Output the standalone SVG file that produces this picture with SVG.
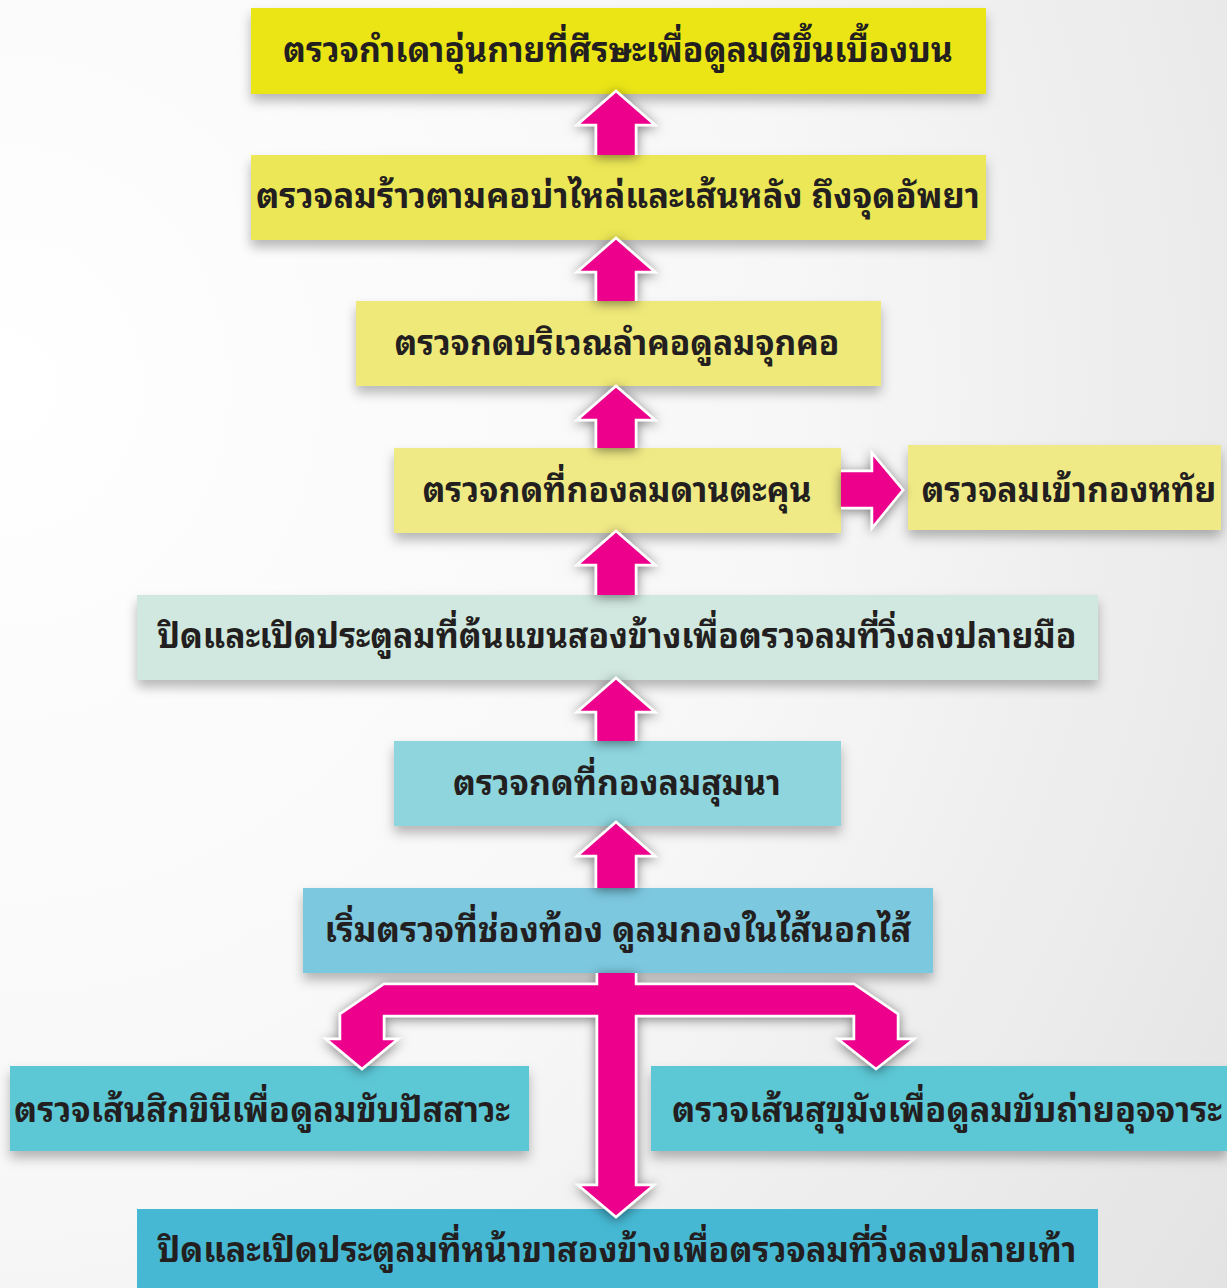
<svg xmlns="http://www.w3.org/2000/svg" width="1227" height="1288" viewBox="0 0 1227 1288">
<defs>
<radialGradient id="bg" cx="0" cy="0.3" r="1.3" gradientUnits="objectBoundingBox">
<stop offset="0" stop-color="#ffffff"/>
<stop offset="0.5" stop-color="#f7f7f7"/>
<stop offset="1" stop-color="#e0e0e0"/>
</radialGradient>
<filter id="bs" x="-10%" y="-30%" width="120%" height="170%">
<feDropShadow dx="0" dy="7" stdDeviation="6" flood-color="#000" flood-opacity="0.28"/>
</filter>
<filter id="as" x="-40%" y="-40%" width="180%" height="180%">
<feDropShadow dx="0" dy="2" stdDeviation="6" flood-color="#000" flood-opacity="0.5"/>
</filter>
</defs>
<style>
.t{font-family:"Noto Sans Thai Looped","Loma","Garuda","Tlwg Typo","Noto Sans Thai","Noto Sans","DejaVu Sans",sans-serif;font-weight:bold;font-size:34px;fill:#231f20;text-anchor:middle}
.arr{fill:#ec008c;stroke:#ffffff;stroke-width:2.5;stroke-linejoin:miter;filter:url(#as)}
</style>
<rect width="1227" height="1288" fill="url(#bg)"/>
<g id="n1"><rect x="251" y="8" width="735" height="86" fill="#ebe514" filter="url(#bs)"/><text class="t" x="618" y="62" textLength="670" lengthAdjust="spacingAndGlyphs">ตรวจกำเดาอุ่นกายที่ศีรษะเพื่อดูลมตีขึ้นเบื้องบน</text></g>
<g id="n2"><rect x="251" y="155" width="735" height="85" fill="#ece757" filter="url(#bs)"/><text class="t" x="618" y="208" textLength="724" lengthAdjust="spacingAndGlyphs">ตรวจลมร้าวตามคอบ่าไหล่และเส้นหลัง  ถึงจุดอัพยา</text></g>
<g id="n3"><rect x="356" y="301" width="525" height="85" fill="#efe979" filter="url(#bs)"/><text class="t" x="617" y="355" textLength="445" lengthAdjust="spacingAndGlyphs">ตรวจกดบริเวณลำคอดูลมจุกคอ</text></g>
<g id="n4"><rect x="394" y="448" width="447" height="85" fill="#f0ea86" filter="url(#bs)"/><text class="t" x="617" y="502" textLength="389" lengthAdjust="spacingAndGlyphs">ตรวจกดที่กองลมดานตะคุน</text></g>
<g id="n4b"><rect x="908" y="445" width="313" height="85" fill="#f0ea86" filter="url(#bs)"/><text class="t" x="1069" y="502" textLength="295" lengthAdjust="spacingAndGlyphs">ตรวจลมเข้ากองหทัย</text></g>
<g id="n5"><rect x="137" y="595" width="961" height="85" fill="#d0e8df" filter="url(#bs)"/><text class="t" x="617" y="648" textLength="919" lengthAdjust="spacingAndGlyphs">ปิดและเปิดประตูลมที่ต้นแขนสองข้างเพื่อตรวจลมที่วิ่งลงปลายมือ</text></g>
<g id="n6"><rect x="394" y="741" width="447" height="85" fill="#8ed5de" filter="url(#bs)"/><text class="t" x="617" y="795" textLength="328" lengthAdjust="spacingAndGlyphs">ตรวจกดที่กองลมสุมนา</text></g>
<g id="n7"><rect x="303" y="888" width="630" height="85" fill="#7bc8df" filter="url(#bs)"/><text class="t" x="618" y="942" textLength="587" lengthAdjust="spacingAndGlyphs">เริ่มตรวจที่ช่องท้อง  ดูลมกองในไส้นอกไส้</text></g>
<g id="n8"><rect x="10" y="1066" width="519" height="85" fill="#5cc7d5" filter="url(#bs)"/><text class="t" x="262" y="1122" textLength="496" lengthAdjust="spacingAndGlyphs">ตรวจเส้นสิกขินีเพื่อดูลมขับปัสสาวะ</text></g>
<g id="n9"><rect x="651" y="1066" width="576" height="85" fill="#5cc7d5" filter="url(#bs)"/><text class="t" x="947" y="1122" textLength="550" lengthAdjust="spacingAndGlyphs">ตรวจเส้นสุขุมังเพื่อดูลมขับถ่ายอุจจาระ</text></g>
<g id="n10"><rect x="137" y="1209" width="961" height="79" fill="#46b8d3"/><text class="t" x="617" y="1262" textLength="919" lengthAdjust="spacingAndGlyphs">ปิดและเปิดประตูลมที่หน้าขาสองข้างเพื่อตรวจลมที่วิ่งลงปลายเท้า</text></g>
<g id="connectors">
<path class="arr" d="M596,155 V125 H577 L616,91 L655,125 H636 V155"/>
<path class="arr" d="M596,301 V272 H577 L616,238 L655,272 H636 V301"/>
<path class="arr" d="M596,448 V420 H577 L616,386 L655,420 H636 V448"/>
<path class="arr" d="M596,595 V565 H577 L616,531 L655,565 H636 V595"/>
<path class="arr" d="M596,741 V712 H577 L616,678 L655,712 H636 V741"/>
<path class="arr" d="M596,888 V856 H577 L616,822 L655,856 H636 V888"/>
<path class="arr" d="M841,471 H872 V453 L903,490 L872,528 V508 H841"/>
<path class="arr" d="M597,973 V984 H384 L340,1014 V1039 H326 L362,1069 L398,1039 H384 V1016 H597 V1185 H578 L616,1217 L654,1185 H636 V1016 H854 V1039 H838 L876,1069 L914,1039 H898 V1014 L854,984 H636 V973"/>
</g>
</svg>
